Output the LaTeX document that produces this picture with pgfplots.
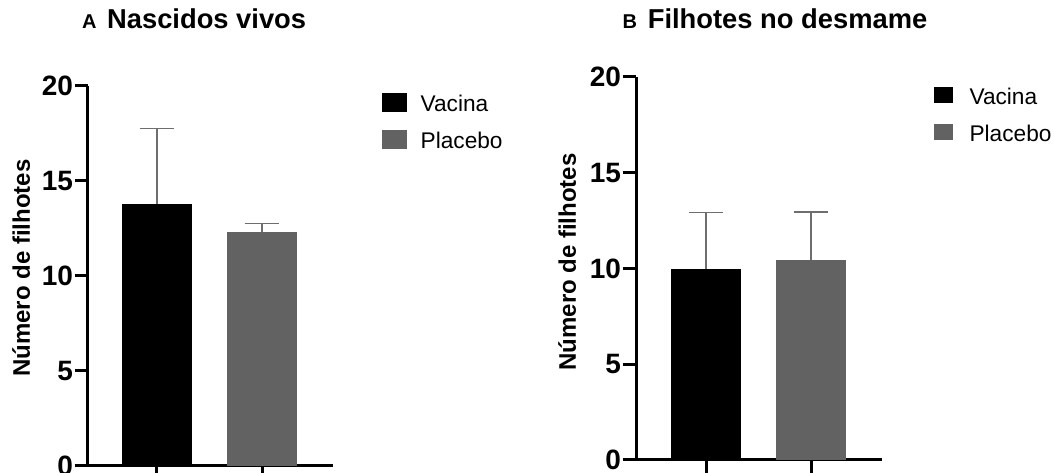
\documentclass[border=0pt]{standalone}
\usepackage{pgfplots}
\pgfplotsset{compat=1.18}
\usepackage{fontspec}
\setmainfont{Liberation Sans}
\definecolor{bargray}{HTML}{626262}
\definecolor{errgray}{HTML}{6E6E6E}
\pgfplotsset{
  panel/.style={
    scale only axis,
    axis x line*=bottom, axis y line*=left,
    axis line style={line width=2.25pt, black},
    ymin=0, ymax=20, ytick={0,5,10,15,20},
    xtick={0,1}, xticklabels={},
    tick align=outside, major tick length=10pt,
    tick style={line width=2.25pt, black},
    /pgf/number format/assume math mode=true,
    yticklabel style={font=\fontsize{21}{21}\selectfont\bfseries, inner sep=1pt},
    ylabel={Número de filhotes},
    ylabel style={font=\fontsize{18}{18}\selectfont\bfseries, anchor=center},
    title style={font=\fontsize{20.5}{20.5}\selectfont\bfseries, anchor=base, inner sep=0pt},
    ybar, bar width=52.5pt, bar shift=0pt,
    clip=false,
    legend style={draw=none, fill=none, inner sep=0pt, outer sep=0pt, anchor=north west,
      font=\fontsize{17}{17}\selectfont, row sep=9.75pt,
      nodes={inner sep=0pt, text height=14pt, text depth=4pt},
      /tikz/every odd column/.append style={column sep=10pt}},
    legend cell align=left,
    error bars/y dir=plus, error bars/y explicit,
    error bars/error bar style={line width=1.1pt, errgray},
    error bars/error mark options={line width=1.1pt, errgray, mark size=13pt, rotate=90},
  }
}
\begin{document}
\begin{tikzpicture}
\path[use as bounding box] (0pt,0pt) rectangle (790.5pt,-354.75pt);
% Panel A
\begin{axis}[panel, at={(66pt,-349.5pt)}, anchor=south west,
  width=183.75pt, height=285pt, xmin=-0.657, xmax=1.676,
  title={{\fontsize{15}{15}\selectfont A}\hspace{8pt}Nascidos vivos},
  title style={at={(rel axis cs:0.433,1.129)}},
  ylabel style={at={(rel axis cs:-0.273,0.521)}},
  legend style={at={(rel axis cs:1.2,0.983)}},
  legend image code/.code={\fill[#1] (0pt,-6pt) rectangle (19pt,8.25pt);}]
\addplot[fill=black, draw=none] coordinates {(0,13.8) +- (0,3.96)};
\addplot[fill=bargray, draw=none] coordinates {(1,12.29) +- (0,0.47)};
\legend{Vacina, Placebo}
\end{axis}
% Panel B
\begin{axis}[panel, at={(477pt,-345pt)}, anchor=south west,
  width=184.5pt, height=287.25pt, xmin=-0.667, xmax=1.676,
  title={{\fontsize{15}{15}\selectfont B}\hspace{8pt}Filhotes no desmame},
  title style={at={(rel axis cs:0.565,1.107)}},
  ylabel style={at={(rel axis cs:-0.28,0.517)}},
  legend style={at={(rel axis cs:1.211,0.978)}, /tikz/every odd column/.append style={column sep=12.75pt}},
  legend image code/.code={\fill[#1] (0pt,-4.5pt) rectangle (14pt,7.5pt);}]
\addplot[fill=black, draw=none] coordinates {(0,9.97) +- (0,2.95)};
\addplot[fill=bargray, draw=none] coordinates {(1,10.42) +- (0,2.53)};
\legend{Vacina, Placebo}
\end{axis}
\end{tikzpicture}
\end{document}
